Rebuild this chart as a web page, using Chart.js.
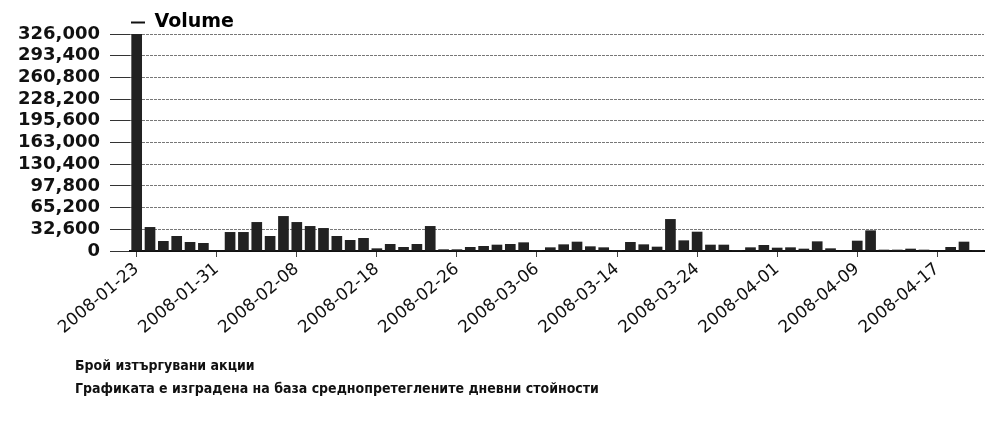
<!DOCTYPE html>
<html>
<head>
<meta charset="utf-8">
<script src="https://cdn.jsdelivr.net/npm/chart.js@4/dist/chart.umd.min.js"></script>
<style>
  body { margin: 0; background: #fff; }
  #wrap { position: relative; width: 991px; height: 422px; }
  .note {
    position: absolute; left: 75px;
    font-family: "DejaVu Sans Condensed", "Liberation Sans", sans-serif;
    font-weight: bold; font-size: 14px; color: #111; white-space: nowrap;
  }
</style>
</head>
<body>
<div id="wrap">
  <canvas id="stage" width="991" height="422"></canvas>
  <div class="note" style="top:357px">Брой изтъргувани акции</div>
  <div class="note" style="top:380px">Графиката е изградена на база среднопретеглените дневни стойности</div>
</div>
<script>
// дати (търговски дни)
var dates = [
  "2008-01-23","2008-01-24","2008-01-25","2008-01-28","2008-01-29","2008-01-30","2008-01-31",
  "2008-02-01","2008-02-04","2008-02-05","2008-02-06","2008-02-07","2008-02-08",
  "2008-02-11","2008-02-12","2008-02-13","2008-02-14","2008-02-15","2008-02-18",
  "2008-02-19","2008-02-20","2008-02-21","2008-02-22","2008-02-25","2008-02-26",
  "2008-02-27","2008-02-28","2008-02-29","2008-03-04","2008-03-05","2008-03-06",
  "2008-03-07","2008-03-10","2008-03-11","2008-03-12","2008-03-13","2008-03-14",
  "2008-03-17","2008-03-18","2008-03-19","2008-03-20","2008-03-21","2008-03-24",
  "2008-03-25","2008-03-26","2008-03-27","2008-03-28","2008-03-31","2008-04-01",
  "2008-04-02","2008-04-03","2008-04-04","2008-04-07","2008-04-08","2008-04-09",
  "2008-04-10","2008-04-11","2008-04-14","2008-04-15","2008-04-16","2008-04-17",
  "2008-04-18","2008-04-21","2008-04-22"
];

// обем
var volume = [
  326000, 36000, 15000, 22500, 13500, 12000, 1000,
  28500, 28500, 43500, 22500, 52500, 43500,
  37500, 34500, 22500, 16500, 19500, 4000,
  10500, 6000, 10500, 37500, 2500, 2500,
  6000, 7500, 9500, 10500, 13000, 1500,
  5500, 10000, 14000, 7000, 5500, 1500,
  13500, 10000, 6500, 48000, 16000, 29000,
  9500, 9500, 1500, 5500, 9000, 5000,
  5500, 3500, 14500, 4000, 1000, 15500,
  31000, 2000, 2000, 3500, 2000, 1000,
  6000, 14000, 1500
];

var yMax = 326000;
var yStep = 32600;
var labelEvery = 6;

// преместване на легендата над графиката
var legendShift = {
  id: 'legendShift',
  afterLayout: function(chart) {
    chart.legend.left = 127;
    chart.legend.top += 8;
  }
};

var canvas = document.getElementById('stage');
var chart = new Chart(canvas, {
  type: 'bar',
  data: {
    labels: dates,
    datasets: [{
      label: 'Volume',
      data: volume,
      backgroundColor: '#222',
      borderWidth: 0,
      barPercentage: 0.8,
      categoryPercentage: 1.0
    }]
  },
  options: {
    responsive: false,
    animation: false,
    layout: { padding: { top: 1, right: 7, left: 0, bottom: 0 } },
    plugins: {
      legend: {
        align: 'start',
        labels: {
          usePointStyle: true,
          pointStyle: 'line',
          pointStyleWidth: 14,
          padding: 4,
          color: '#111',
          font: { family: 'DejaVu Sans', size: 19, weight: 'bold' },
          generateLabels: function(c) {
            return [{ text: 'Volume', fillStyle: '#111', strokeStyle: '#111', lineWidth: 2,
                      pointStyle: 'line', datasetIndex: 0, hidden: false }];
          }
        }
      },
      tooltip: { enabled: false }
    },
    scales: {
      x: {
        grid: { offset: false, drawOnChartArea: false, tickLength: 6, tickColor: '#444' },
        border: { color: '#111', width: 2 },
        ticks: {
          autoSkip: false,
          minRotation: 40,
          maxRotation: 40,
          padding: 2,
          color: '#111',
          font: { family: 'DejaVu Sans', size: 17 },
          callback: function(val, idx) {
            return idx % labelEvery === 0 ? this.getLabelForValue(val) : null;
          }
        },
        afterFit: function(scale) { scale.height = 171; }
      },
      y: {
        min: 0,
        max: yMax,
        grid: { color: '#777', tickColor: '#333', tickLength: 20, lineWidth: 1 },
        border: { display: false, dash: [3, 1] },
        ticks: {
          stepSize: yStep,
          autoSkip: false,
          padding: 10,
          color: '#111',
          font: { family: 'DejaVu Sans', size: 18, weight: 'bold', lineHeight: 1 },
          callback: function(v) { return v.toLocaleString('en-US'); }
        },
        afterFit: function(scale) { scale.width = 130; }
      }
    }
  },
  plugins: [legendShift]
});
</script>
</body>
</html>
